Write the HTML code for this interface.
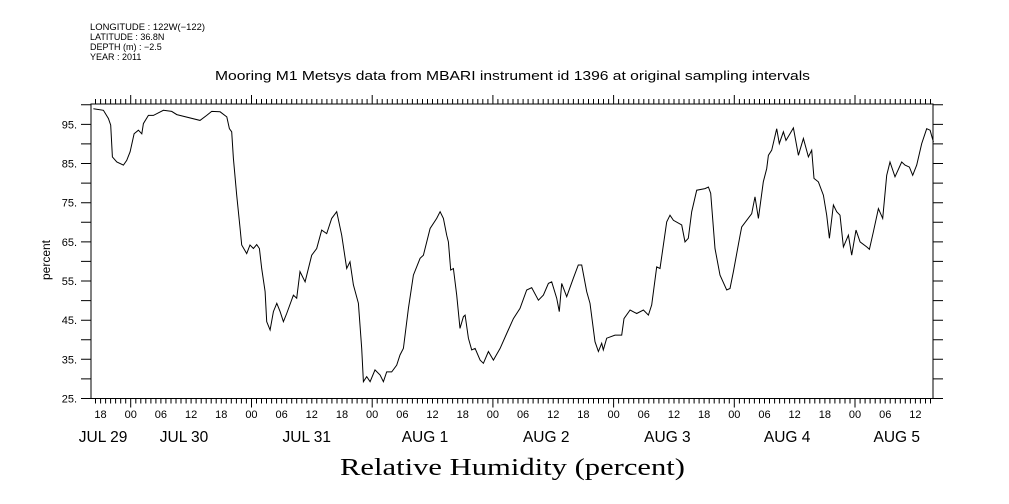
<!DOCTYPE html>
<html><head><meta charset="utf-8"><style>
body{margin:0;background:#fff;}
svg{display:block;font-family:"Liberation Sans",sans-serif;}
</style></head><body>
<svg id="chart" width="1009" height="504" viewBox="0 0 1009 504">
<g font-size="9" fill="#000">
<text x="90" y="30" textLength="115" lengthAdjust="spacingAndGlyphs">LONGITUDE : 122W(−122)</text>
<text x="90" y="40">LATITUDE : 36.8N</text>
<text x="90" y="50">DEPTH (m) : −2.5</text>
<text x="90" y="60">YEAR : 2011</text>
</g>
<text x="215" y="80" font-size="13" textLength="595" lengthAdjust="spacingAndGlyphs">Mooring M1 Metsys data from MBARI instrument id 1396 at original sampling intervals</text>
<text x="340" y="475" font-size="24" font-family="Liberation Serif, serif" textLength="345" lengthAdjust="spacingAndGlyphs">Relative Humidity (percent)</text>
<text x="0" y="0" font-size="12" text-anchor="middle" transform="translate(50,260) rotate(-90)">percent</text>
<g id="axes"></g>
<path id="line" fill="none" stroke="#000" stroke-width="1"/>
</svg>
<script>
const hours=[-7.42,-5.43,-4.44,-3.98,-3.64,-2.78,-1.46,-0.8,-0.13,0.66,1.52,2.19,2.52,3.51,4.51,6.49,8.15,9.15,13.78,15.11,16.1,17.76,19.09,19.62,20.08,20.41,21.07,21.74,22.07,23.06,23.72,24.39,25.05,25.58,26.04,26.71,27.04,27.7,28.36,29.03,29.69,30.35,31.01,32.34,33.0,33.66,34.66,35.98,36.98,37.97,38.97,39.96,40.95,41.95,42.94,43.6,44.27,45.26,45.92,46.26,46.92,47.58,48.57,49.57,50.23,50.89,51.89,52.88,53.54,54.21,55.2,56.2,57.52,58.18,59.51,60.83,61.5,62.16,62.82,63.15,63.62,64.15,64.81,65.47,66.14,66.47,67.13,67.79,68.46,69.45,70.11,71.11,72.1,73.43,74.75,76.07,77.4,78.72,79.72,81.04,82.04,83.03,83.69,84.68,85.21,85.68,86.67,87.99,88.99,89.65,90.65,91.31,92.31,92.97,93.63,93.96,94.63,96.28,97.61,98.07,99.27,100.59,101.92,102.91,103.57,104.57,105.23,106.55,107.22,107.88,109.54,110.2,110.86,111.52,112.52,114.17,114.84,115.3,116.16,117.16,118.48,119.15,119.81,121.14,121.47,122.46,123.46,124.12,124.78,125.77,126.44,126.77,127.43,128.43,128.95,129.75,130.28,131.07,131.74,132.73,133.73,134.72,135.38,135.85,136.71,137.71,138.37,138.9,139.69,140.36,141.02,141.68,142.68,143.34,144.2,145.0,146.32,146.85,147.65,148.64,149.5,150.29,150.96,151.95,153.28,153.94,154.8,155.47,156.26,157.26,158.25,158.92,159.58];
const humidity=[99.0,98.6,96.5,94.8,86.7,85.4,84.6,85.8,88.0,92.6,93.5,92.6,95.2,97.3,97.3,98.6,98.3,97.5,96.0,97.3,98.3,98.2,96.9,93.9,93.1,86.3,76.9,68.4,64.2,62.0,64.2,63.3,64.3,63.3,58.2,52.3,44.6,42.5,47.2,49.3,47.2,44.6,46.7,51.4,50.6,57.4,54.8,61.6,63.3,68.0,67.1,71.0,72.7,66.7,58.2,59.9,54.0,49.3,37.8,29.3,30.6,29.3,32.3,31.0,29.3,31.8,31.8,33.5,36.1,37.8,48.0,56.5,60.8,61.6,68.4,71.0,72.7,71.0,66.7,65.0,57.8,58.2,51.4,42.9,45.9,46.3,40.4,37.4,37.8,34.8,34.0,37.0,34.8,37.8,41.6,45.4,48.0,52.7,53.3,50.1,51.4,54.4,54.8,50.6,47.2,54.4,51.0,55.7,59.1,59.1,52.3,49.3,39.5,37.0,39.1,37.4,40.4,41.2,41.2,45.4,47.6,46.7,47.6,46.3,48.9,58.6,58.2,70.1,71.8,70.5,69.3,65.0,65.9,72.7,78.2,78.6,79.0,77.4,63.3,56.5,52.7,53.1,57.4,66.7,68.8,70.5,72.2,76.5,71.0,80.3,83.7,87.1,88.4,93.9,90.1,93.1,90.9,92.6,94.1,87.1,91.4,86.7,88.4,81.2,80.3,76.9,71.8,65.9,74.4,72.7,71.8,63.7,66.7,61.6,68.0,65.0,63.7,63.1,67.6,73.5,71.0,82.0,85.4,81.6,85.4,84.6,84.1,82.0,84.6,90.1,93.9,93.5,90.5];
const yTickLabels=["25.","35.","45.","55.","65.","75.","85.","95."];
const hourLabels=["18","00","06","12"];
const dateLabels=["JUL 29","JUL 30","JUL 31","AUG  1","AUG  2","AUG  3","AUG  4","AUG  5"];
const dateLabelHours=[-5.5,10.6,35,58.5,82.6,106.7,130.5,152.3];

const L=91,R=933,T=104,B=398.5;
const tMin=-7.9,tMax=159.5,vMin=25,vMax=100.2;
const X=t=>L+(t-tMin)/(tMax-tMin)*(R-L);
const Y=v=>B-(v-vMin)/(vMax-vMin)*(B-T);
const NS="http://www.w3.org/2000/svg";
const ax=document.getElementById('axes');
function mk(tag,attrs,parent){const e=document.createElementNS(NS,tag);for(const k in attrs)e.setAttribute(k,attrs[k]);(parent||ax).appendChild(e);return e;}
const frame=mk('rect',{x:L,y:T,width:R-L,height:B-T,fill:'none',stroke:'#000','stroke-width':1});


let d='';
for(let h=Math.ceil(tMin);h<=tMax;h++){
  const x=X(h).toFixed(1);const len=(h%24===0)?9:5;
  d+=`M${x},${T}v${-len}M${x},${B}v${len}`;
}
for(let v=25;v<=100;v+=5){const y=Y(v).toFixed(1);d+=`M${L},${y}h-10M${R},${y}h10`;}
const ticks=mk('path',{d:d,stroke:'#000','stroke-width':1,fill:'none'});


yTickLabels.forEach((lab,i)=>{
  const t=mk('text',{x:77,y:Y(25+i*10)+4,'font-size':11,'text-anchor':'end'});
  
  
  t.textContent=lab;
});
for(let h=-6,i=0;h<=tMax;h+=6,i++){
  const t=mk('text',{x:X(h),y:418,'font-size':11,'text-anchor':'middle'});
  
  
  t.textContent=hourLabels[i%4];
}
dateLabels.forEach((lab,i)=>{
  const t=mk('text',{x:X(dateLabelHours[i]),y:442,'font-size':15.5,'text-anchor':'middle','xml:space':'preserve'});
  
  
  t.textContent=lab;
});
let p='';
hours.forEach((h,i)=>{p+=(i?'L':'M')+X(h).toFixed(1)+','+Y(humidity[i]).toFixed(1);});
document.getElementById('line').setAttribute('d',p);
</script>
</body></html>
